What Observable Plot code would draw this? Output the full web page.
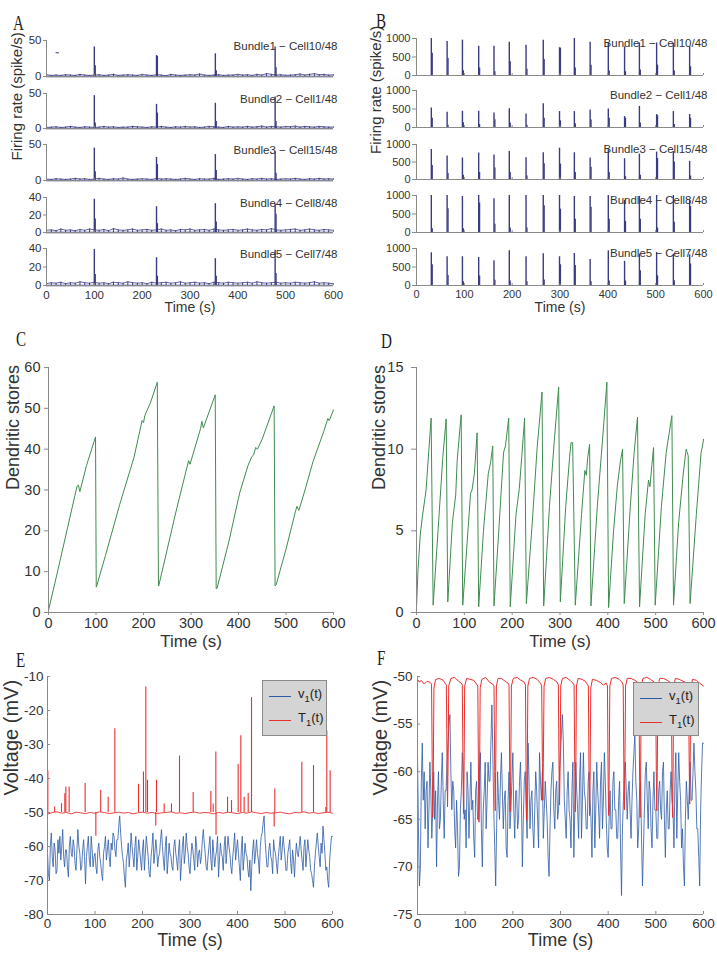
<!DOCTYPE html>
<html><head><meta charset="utf-8">
<script src="https://cdn.jsdelivr.net/npm/d3@7"></script>
<script src="https://cdn.jsdelivr.net/npm/@observablehq/plot@0.6"></script>
<style>
body{margin:0;background:#fff;}
#fig{position:relative;width:717px;height:957px;background:#fff;overflow:hidden;font-family:"Liberation Sans",Arial,sans-serif;}
#fig svg, #fig svg text{font-family:"Liberation Sans",Arial,sans-serif;}
.letter{position:absolute;font-family:"Liberation Serif","DejaVu Serif",serif;font-size:21px;color:#222;transform:scaleX(0.72);transform-origin:left top;line-height:1;}
.legend{position:absolute;background:#d4d4d4;border:1px solid #8a8a8a;box-sizing:border-box;color:#222;font-size:13px;}
.legend .ln{position:absolute;left:6px;width:22px;height:1px;}
.legend .lt{position:absolute;left:35px;line-height:14px;white-space:nowrap;}
.legend sub{font-size:9.5px;vertical-align:-4px;line-height:0;}
</style></head><body><div id="fig"></div><script>
// ---------------- data ----------------
const xTicks = [0,100,200,300,400,500,600];
const xDomain = [0,600];

// Panel A
const aLabels = ["Bundle1 − Cell10/48","Bundle2 − Cell1/48","Bundle3 − Cell15/48","Bundle4 − Cell8/48","Bundle5 − Cell7/48"];
const aSpikeT = [100, 230, 353, 478];
const aSecT = [102, 232, 355, 480];
const aPeak1 = [41, 29, 31.5, 41], aSec1 = [15, 28, 8, 12];
const aPeak2 = [47, 34.5, 36, 45], aSec2 = [8, 22, 10, 10];
const aPeak3 = [45, 32, 36, 40], aSec3 = [12, 22, 14, 10];
const aPeak4 = [38, 29.5, 33, 32], aSec4 = [15.5, 10, 12, 21];
const aPeak5 = [39, 30, 29, 38], aSec5 = [12, 10, 10, 13];
const aNoise1 = [2.5,1.5,2,1.5,2.5,2,1.5,3,2,1.5, 2,2.5,1.5,2,3,1.5,2,2.5,2,1.5, 3,2,1.5,2.5,2,1,3,2,1.5,2, 2.5,2,3.5,2,1.5,2,2.5,1.5,2,2, 3,2,2.5,1.5,3,2,4,3,2,2.5, 1.5,2,2.5,3.5,2,3,4,2.5,3,2, 2.5];
const aNoise2 = [1.5,2,2.5,1.5,2,3,2,1.5,2.5,2, 1.5,2,3,2,2.5,1.5,2,2,3,2.5, 2,1.5,2.5,2,3,2,1.5,2.5,2,3, 2,2.5,1.5,2,3,2.5,2,1.5,3,2, 2.5,2,3,2,2.5,3.5,2,3,2.5,2, 3,2.5,3.5,2,3,2.5,2,3,2.5,2, 2];
const aNoise3 = [2,1.5,2.5,2,1.5,2,3,2,2.5,1.5, 2,3,2,1.5,2.5,2,3.5,2,1.5,2, 2.5,2,1.5,3,2,2.5,2,1.5,2,3, 2,1.5,2.5,2,2,3,1.5,2,2.5,2, 3,2,1.5,2.5,2,3,2,2.5,1.5,2, 2.5,2,3,2,1.5,2.5,2,3,2,2.5, 2];
const aNoise4 = [2.5,3,2,4,2.5,3,2,3.5,2.5,4, 3,2.5,3.5,2,4.5,3,2.5,3,4,2.5, 3,3.5,2.5,3,4,2.5,3,2,3.5,3, 4,2.5,3,3.5,2.5,4,3,2.5,3,3.5, 2.5,3,4,3,2.5,3.5,3,4.5,3,2.5, 3,3.5,4,2.5,3,4,3,2.5,3.5,3, 2.5];
const aNoise5 = [2,3,2.5,3.5,2,3,2.5,4,3,2.5, 3.5,2.5,3,2,3.5,3,2.5,4,3,2.5, 3,2,3.5,2.5,3,3.5,2.5,3,4,2.5, 3,3.5,2.5,3,2,3.5,3,2.5,3.5,3, 2.5,3,3.5,2.5,4,3,2.5,3,3.5,2.5, 3,2.5,3.5,3,2.5,3,4,2.5,3,2.5, 2];
const aDash = {t1: 20, t2: 27, v: 33};

// Panel B
const bSpikeT = [31,64,96,130,162,194,229,265,299,330,363,401,435,466,502,537,571];
const bSecT   = [33,66,98,132,164,196,231,267,301,332,365,403,437,468,504,539,573];
const bMain1 = [1000,920,955,790,790,900,820,955,750,1000,900,880,775,880,880,865,775];
const bSec1  = [600,460,130,200,100,370,170,430,740,200,280,120,100,150,280,120,235];
const bMain2 = [527,410,437,437,390,510,366,643,430,430,473,500,295,571,350,430,350];
const bSec2  = [250,60,130,80,210,120,60,250,180,100,200,250,250,120,320,80,250];
const bMain3 = [857,670,613,755,698,800,623,764,894,764,613,850,594,726,783,800,519];
const bSec3  = [400,170,120,200,330,200,100,450,440,200,350,200,80,120,600,500,100];
const bMain4 = [1000,1000,973,1000,910,1000,1000,1000,1000,973,973,1000,865,973,1000,1000,865];
const bSec4  = [100,640,100,800,220,120,120,720,630,360,680,360,300,360,120,280,700];
const bMain5 = [884,777,777,759,670,937,777,857,777,866,705,937,652,848,893,848,830];
const bSec5  = [560,270,100,260,140,120,100,150,560,540,100,120,120,400,260,130,580];
const bBase = 0;

// Panel C
const cT = [0,10,20,40,60,63,66,80,99,100.5, 101,120,150,180,197,200,203,215,229,231.5, 232,250,270,295,298,320,323,326,351,353, 355,380,400,403,420,428,432,436,440,450,475,477, 479,500,520,523,527,540,557,580,588,591,600];
const cV = [0.5,5.5,10.5,20.7,30.9,31.2,29.6,36,43,6.2, 6.3,14,26.5,38,47,46.5,48.3,51.5,56.4,6.5, 6.5,15.5,25.5,37.2,36.3,45,46.8,45.2,53.3,5.8, 6,17.5,28,29.5,36,38.2,38.6,40.4,40,42.5,50.6,6.5, 6.7,15.5,24.8,26,25,30,37,44.5,47.5,47,49.6];

// Panel D
const dT = [0,3,8,12,20,26,30.6, 34.8,45,55,62, 65.4,75,82,85,93.3, 96.7,108,113,116,121,126.7, 130,140,150,155,159.4, 162,172,182,186,190,192.8, 196,208,215,220,226, 229.7,242,252,262.4, 265.9,278,288,297.2, 300.7,312,320,323,326.4, 332,345,352,355,358,361.9, 364.7,378,390,398, 401.6,412,420,426,430.8, 434.3,447,455,462, 466.3,478,485,488,492,495.6, 499,512,522,533.9, 537.3,548,558,563.8,566,568, 572,585,595,598,600];
const dV = [0.3,2.5,4.8,5.8,7.5,10,11.9, 0.45,5,9.5,11.85, 0.65,5.5,7.2,9.3,12.1, 0.45,5.2,7.3,7.5,8.5,11, 0.35,5,8.5,9.2,10.2, 0.4,5,9.8,10.2,11.2,11.9, 0.35,6,7.6,9.5,11.9, 0.55,5.5,10,13.5, 0.4,6.5,10.5,13.8, 0.65,6.5,9.5,10.4,10.4, 0.45,6,8.7,8.4,9.5,10.3, 0.4,6.5,11,14.1, 0.3,5,7.8,9.2,10, 0.55,6.5,9.8,11.95, 0.35,6,8.1,7.7,9,10.1, 0.45,6.5,9.8,12.05, 0.45,5.5,8.6,10,9.8,9.6, 0.55,6,9.8,10.2,10.6];

// Panel E (v1 sampled every 2 s)
const eBlue = [
 -62,-68,-70,-60,-56,-63,-66,-59,-61,-68,
 -67,-58,-62,-57,-64,-60,-55,-63,-66,-61,
 -61,-66,-69,-60,-57,-62,-63,-58,-60,-65,
 -67,-61,-55,-60,-62,-67,-66,-61,-58,-63,
 -71,-63,-60,-57,-64,-66,-57,-61,-66,-63,
 -62,-66,-68,-61,-59,-63,-65,-68,-70,-62,
 -60,-57,-64,-61,-58,-63,-66,-59,-61,-56,
 -57,-61,-63,-58,-58,-54,-51,-56,-60,-63,
 -65,-69,-72,-64,-62,-59,-66,-62,-56,-60,
 -63,-66,-60,-57,-67,-63,-58,-61,-64,-67,
 -61,-58,-67,-62,-57,-60,-63,-68,-69,-63,
 -60,-56,-65,-62,-58,-61,-66,-63,-62,-58,
 -55,-60,-64,-67,-60,-57,-68,-64,-59,-62,
 -63,-66,-67,-60,-58,-62,-64,-67,-61,-58,
 -70,-65,-60,-57,-65,-62,-56,-60,-62,-66,
 -68,-63,-59,-61,-64,-67,-57,-60,-66,-62,
 -61,-65,-63,-58,-55,-59,-62,-66,-67,-63,
 -60,-57,-64,-67,-58,-62,-66,-63,-61,-57,
 -69,-64,-59,-62,-63,-67,-60,-57,-65,-61,
 -57,-60,-62,-66,-68,-63,-60,-56,-64,-61,
 -58,-62,-66,-70,-61,-57,-67,-63,-59,-62,
 -63,-67,-69,-64,-73,-66,-61,-58,-65,-62,
 -58,-62,-64,-68,-60,-57,-56,-53,-51,-58,
 -62,-66,-66,-61,-59,-63,-64,-68,-58,-61,
 -62,-65,-68,-63,-60,-57,-64,-61,-57,-60,
 -63,-67,-67,-62,-60,-58,-65,-68,-61,-64,
 -69,-63,-59,-62,-63,-60,-57,-61,-64,-67,
 -60,-58,-66,-62,-58,-61,-63,-67,-68,-70,
 -72,-66,-62,-59,-56,-60,-63,-66,-59,-62,
 -54,-58,-62,-67,-66,-70,-72,-64,-60,-57,
 -57];
const eRest = -50;
const eRedBase = [-50.5,-50,-49.8,-50.2,-50,-50.4,-49.9,-50.1,-50.3,-50, -50.2,-49.8,-50,-50.3,-50.1,-49.9,-50.2,-50,-50.4,-50.1, -49.9,-50.2,-50,-50.3,-50.1,-50,-49.8,-50.2,-50.1,-50.3, -50,-49.9,-50.2,-50,-50.1,-50.4,-50,-50.2,-49.9,-50.1, -50.3,-50,-50.2,-49.8,-50.1,-50.3,-50,-50.2,-50.1,-49.9, -50.2,-50.4,-50,-50.1,-49.8,-50.2,-50,-50.3,-50.1,-49.9, -50.2];
const eSpikeT = [0.7,15,29.5,36.5,38.6,45.6,79.3,101.8,112,127.7,141.8,191.6,202,207,210.5,228,229.5,245.6,261,277.9,306.7,343.9,348.8,354.4,354.8,379,387.4,401.4,407,414,422.5,429.5,477.2,478.6,535.4,560,586,588,595];
const eSpikeV = [-37.8,-48.4,-47.4,-44.5,-42.5,-42.5,-41.5,-57,-43.5,-45.5,-25.4,-41.7,-38.1,-13.1,-40.5,-54,-40.5,-47.5,-47.5,-33.4,-44.1,-43.8,-47.5,-32.2,-56.7,-45.5,-46.5,-35.9,-27.4,-45.5,-44.4,-16.2,-54.3,-43.1,-35.2,-36.2,-48.5,-26,-37.7];

// Panel F (v1 sampled every 2 s)
const fBlue = [
 -58,-66,-72,-70,-61,-57,-63,-60,-66,-62,
 -61,-68,-64,-59,-62,-67,-64,-60,-65,-62,
 -70,-63,-60,-66,-65,-61,-58,-63,-67,-62,
 -62,-59,-57,-55,-54,-60,-64,-61,-62,-66,
 -68,-63,-66,-71,-70,-64,-62,-58,-60,-65,
 -64,-68,-60,-62,-67,-63,-59,-64,-63,-67,
 -69,-62,-61,-65,-65,-60,-58,-66,-70,-64,
 -62,-59,-66,-63,-59,-61,-61,-57,-53,-58,
 -64,-68,-72,-66,-60,-63,-65,-61,-58,-62,
 -66,-63,-62,-68,-69,-63,-60,-66,-64,-61,
 -58,-64,-67,-62,-62,-66,-65,-61,-59,-63,
 -70,-65,-61,-60,-64,-67,-57,-61,-66,-63,
 -62,-66,-68,-64,-60,-62,-65,-68,-58,-61,
 -63,-60,-67,-64,-61,-63,-65,-69,-71,-66,
 -62,-60,-59,-64,-66,-62,-61,-65,-64,-60,
 -58,-56,-54,-57,-63,-65,-67,-62,-60,-64,
 -65,-68,-62,-59,-69,-64,-59,-62,-64,-67,
 -61,-58,-67,-63,-58,-62,-63,-66,-66,-61,
 -60,-63,-65,-69,-62,-60,-68,-64,-59,-62,
 -64,-67,-61,-59,-66,-63,-58,-61,-65,-68,
 -69,-65,-62,-66,-66,-61,-60,-64,-64,-67,
 -67,-63,-61,-68,-73,-66,-63,-60,-59,-62,
 -65,-62,-61,-64,-67,-63,-60,-58,-56,-61,
 -63,-68,-66,-62,-61,-67,-72,-68,-64,-60,
 -59,-63,-66,-61,-62,-66,-68,-63,-60,-64,
 -64,-67,-67,-62,-61,-64,-65,-60,-59,-65,
 -69,-64,-62,-66,-66,-62,-60,-63,-64,-68,
 -61,-58,-67,-62,-58,-61,-63,-68,-66,-70,
 -72,-65,-61,-63,-65,-62,-59,-63,-63,-60,
 -57,-60,-62,-66,-66,-69,-72,-64,-60,-57,
 -57];
const fRedT = [0,4,8,14,20,26, 29.5,31,32,33,34.5, 38,46,54,58, 60.5,62,63,64,65.5, 70,78,86,92, 94,95.5,96.5,97.5,99, 103,110,118,124, 126.5,128,129,130,131.5, 135,143,151,158, 160.5,162,163,164,165.5, 169,176,184,190, 192,193.4,194.4,195.4,197, 201,209,217,224, 226.5,228,229,230,231.5, 235,243,251,258, 260.5,262,263,264,265.5, 269,277,285,293, 295.5,297,298,299,300.5, 304,312,320,326, 328.5,330,331,332,333.5, 337,345,352,356, 358.5,360,361,362,363.5, 367,375,383,390,396, 398.5,400,401,402,403.5, 407,415,423,429, 431.5,433,434,435,436.5, 440,448,456,462, 464.5,466,467,468,469.5, 473,481,489,497, 499.5,501,502,503,504.5, 508,516,524,530, 532.5,534,535,536,537.5, 541,549,557,566, 568.5,570,571,572,573.5, 577,585,592,600];
const fRedV = [-50.3,-50.6,-50.4,-50.8,-50.5,-50.6, -50.8,-60,-64.8,-61,-51.2, -50.3,-50.2,-50.4,-50.7, -50.9,-59,-63.7,-60,-51, -50.2,-50.1,-50.5,-50.7, -50.9,-60,-64.4,-61,-51, -50.2,-50.3,-50.4,-50.8, -51,-61,-65.3,-62,-51.2, -50.3,-50.1,-50.6,-50.8, -51,-60,-64.1,-60,-51, -50.2,-50.2,-50.5,-50.7, -50.9,-60,-64.2,-61,-51, -50.2,-50.1,-50.4,-50.6, -50.9,-61,-65.1,-62,-51, -50.2,-50.1,-50.3,-50.7, -51,-59,-63,-59,-51, -50.2,-50.1,-50.3,-50.6, -50.9,-60,-63.5,-60,-51, -50.2,-50.1,-50.4,-50.7, -50.9,-60,-64.2,-61,-51, -50.2,-50.3,-50.5,-50.8, -51,-61,-64.6,-61,-51.2, -50.3,-50.4,-50.6,-50.9,-50.7, -51,-61,-64.6,-61,-51, -50.2,-50.1,-50.3,-50.6, -50.9,-60,-64,-60,-51, -50.2,-50.2,-50.4,-50.6, -50.8,-61,-64.8,-61,-51, -50.2,-50.1,-50.3,-50.6, -50.9,-60,-64.1,-60,-51, -50.2,-50.2,-50.4,-50.6, -50.9,-61,-64.8,-61,-51, -50.2,-50.3,-50.5,-50.7, -50.9,-59,-63.4,-59,-51, -50.3,-50.4,-50.7,-51];

const legendNames = [["v","1","(t)"],["T","1","(t)"]];

// ---------------- styling ----------------
const FONT = "Liberation Sans, Arial, sans-serif";
const AX = "#8a8a8a", TX = "#333";
const NAVY = "#3b3b82", GREEN = "#3f8c50", BLUE = "#2c5ba6", RED = "#e8302e";
const fig = document.getElementById("fig");

const grid = vals => vals.map((v,i) => ({t: i*600/(vals.length-1), v}));
const zip = (T, V) => T.slice(0, Math.min(T.length, V.length)).map((t,i) => ({t, v: V[i]}));

function panel(frame, o) {
  const [x0,x1,y0,y1] = frame;
  const fw = x1-x0, fh = y1-y0, m = 4;
  const marks = [
    ...o.marks,
    Plot.ruleX([o.xDomain[0]], {stroke: AX}),
    Plot.ruleY([o.yDomain[0]], {stroke: AX}),
    Plot.axisY(o.yTicks, {tickSize: Math.max(o.ySize,0), tickPadding: o.yPad, tickFormat: d => String(d), stroke: AX, fill: TX, label: null, fontSize: o.fs, fontFamily: FONT}),
    Plot.axisX(o.xTicks, {tickSize: Math.max(o.xSize,0), tickPadding: o.xPad, tickFormat: o.xLab ? (d => String(d)) : (() => ""), stroke: AX, fill: TX, label: null, fontSize: o.fs, fontFamily: FONT})
  ];
  if (o.ySize < 0) marks.push(Plot.tickY(o.yTicks, {y: d => d, stroke: AX, insetRight: fw + o.ySize}));
  if (o.xSize < 0) marks.push(Plot.tickX(o.xTicks, {x: d => d, stroke: AX, insetTop: fh + o.xSize}));
  if (o.extra) marks.push(...o.extra);
  const svg = Plot.plot({
    width: fw + 2*m, height: fh + 2*m,
    marginLeft: m, marginRight: m, marginTop: m, marginBottom: m,
    style: {background: "transparent", overflow: "visible", fontFamily: FONT, fontSize: o.fs + "px", color: TX},
    x: {domain: o.xDomain},
    y: {domain: o.yDomain},
    marks
  });
  svg.style.position = "absolute";
  svg.style.left = (x0 - m) + "px";
  svg.style.top = (y0 - m) + "px";
  svg.style.maxWidth = "none";
  fig.append(svg);
}
const label = (txt, opts) => Plot.text([txt], {fill: TX, fontFamily: FONT, ...opts});

function letter(ch, x, y) {
  const d = document.createElement("div");
  d.className = "letter"; d.textContent = ch;
  d.style.left = x + "px"; d.style.top = y + "px";
  fig.append(d);
}

function legend(x, y, w, h, colors) {
  const d = document.createElement("div");
  d.className = "legend";
  Object.assign(d.style, {left: x+"px", top: y+"px", width: w+"px", height: h+"px"});
  legendNames.forEach((n, i) => {
    const ln = document.createElement("div");
    ln.className = "ln"; ln.style.background = colors[i]; ln.style.top = (15 + i*24) + "px";
    const lt = document.createElement("div");
    lt.className = "lt"; lt.style.top = (6 + i*24) + "px";
    lt.innerHTML = `${n[0]}<sub>${n[1]}</sub>${n[2]}`;
    d.append(ln, lt);
  });
  fig.append(d);
}

// ---------------- Panel A ----------------
const aPeaks = [aPeak1,aPeak2,aPeak3,aPeak4,aPeak5];
const aSecs = [aSec1,aSec2,aSec3,aSec4,aSec5];
const aNoises = [aNoise1,aNoise2,aNoise3,aNoise4,aNoise5];
const aFrames = [[46,333,40,76],[46,333,93,128],[46,333,144,180],[46,333,197,232],[46,333,248,285]];
const aDomains = [[0,50],[0,50],[0,50],[0,40],[0,40]];
const aTicks = [[0,50],[0,50],[0,50],[0,20,40],[0,20,40]];
aFrames.forEach((fr, i) => {
  const noise = grid(aNoises[i]);
  const extra = [];
  if (i === 2) extra.push(label("Firing rate (spike/s)", {frameAnchor: "left", rotate: -90, dx: -29, dy: -2, fontSize: 15}));
  if (i === 4) extra.push(label("Time (s)", {frameAnchor: "bottom", dy: 26.5, fontSize: 14}));
  const marks = [
    Plot.ruleX(noise, {x: "t", y1: 0, y2: "v", stroke: NAVY, strokeWidth: 1}),
    Plot.lineY(noise, {x: "t", y: "v", stroke: NAVY, strokeWidth: 1, strokeOpacity: 0.8}),
    Plot.ruleY([0], {stroke: NAVY, strokeWidth: 1.5}),
    Plot.ruleX(zip(aSecT, aSecs[i]), {x: "t", y1: 0, y2: "v", stroke: NAVY, strokeWidth: 1.2}),
    Plot.ruleX(zip(aSpikeT, aPeaks[i]), {x: "t", y1: 0, y2: "v", stroke: NAVY, strokeWidth: 1.4}),
    label(aLabels[i], {frameAnchor: "top-right", textAnchor: "end", lineAnchor: "top", dx: 4, dy: 1, fontSize: 11.5})
  ];
  if (i === 0) marks.push(Plot.ruleY([aDash], {x1: "t1", x2: "t2", y: "v", stroke: NAVY}));
  panel(fr, {xDomain, yDomain: aDomains[i], xTicks, yTicks: aTicks[i], ySize: 3, yPad: 2, xSize: -2, xPad: 5, xLab: i === 4, fs: 11.5, marks, extra});
});

// ---------------- Panel B ----------------
const bMains = [bMain1,bMain2,bMain3,bMain4,bMain5];
const bSecs = [bSec1,bSec2,bSec3,bSec4,bSec5];
const bFrames = [[416,703,38,75],[416,703,90,127],[416,703,144,179],[416,703,195,232],[416,703,248,285]];
bFrames.forEach((fr, i) => {
  const extra = [];
  if (i === 2) extra.push(label("Firing rate (spike/s)", {frameAnchor: "left", rotate: -90, dx: -40, dy: -8, fontSize: 15}));
  if (i === 4) extra.push(label("Time (s)", {frameAnchor: "bottom", dy: 26.5, fontSize: 14}));
  const marks = [
    Plot.ruleY([bBase], {stroke: NAVY, strokeDasharray: "5,2,1,2", strokeWidth: 1.2}),
    Plot.ruleX(zip(bSecT, bSecs[i]), {x: "t", y1: 0, y2: "v", stroke: NAVY, strokeWidth: 1.2}),
    Plot.ruleX(zip(bSpikeT, bMains[i]), {x: "t", y1: 0, y2: "v", stroke: NAVY, strokeWidth: 1.4}),
    label(aLabels[i], {frameAnchor: "top-right", textAnchor: "end", lineAnchor: "top", dx: 4, dy: 0, fontSize: 11.5})
  ];
  panel(fr, {xDomain, yDomain: [0,1000], xTicks, yTicks: [0,500,1000], ySize: 4, yPad: 2, xSize: -2, xPad: 5, xLab: i === 4, fs: 11, marks, extra});
});

// ---------------- Panel C ----------------
panel([48,333,367,612], {
  xDomain, yDomain: [0,60], xTicks, yTicks: [0,10,20,30,40,50,60],
  ySize: 4, yPad: 4, xSize: 3, xPad: 2, xLab: true, fs: 14.5,
  marks: [Plot.line(zip(cT, cV), {x: "t", y: "v", stroke: GREEN, strokeWidth: 1})],
  extra: [
    label("Dendritic stores", {frameAnchor: "left", rotate: -90, dx: -35, fontSize: 18}),
    label("Time (s)", {frameAnchor: "bottom", dy: 34, fontSize: 17})
  ]
});

// ---------------- Panel D ----------------
panel([416,703,367,612], {
  xDomain, yDomain: [0,15], xTicks, yTicks: [0,5,10,15],
  ySize: 5, yPad: 8, xSize: 3, xPad: 2, xLab: true, fs: 14.5,
  marks: [Plot.line(zip(dT, dV), {x: "t", y: "v", stroke: GREEN, strokeWidth: 1})],
  extra: [
    label("Dendritic stores", {frameAnchor: "left", rotate: -90, dx: -37, fontSize: 18}),
    label("Time (s)", {frameAnchor: "bottom", dy: 34, fontSize: 17})
  ]
});

// ---------------- Panel E ----------------
panel([47,332,676,914], {
  xDomain, yDomain: [-80,-10], xTicks, yTicks: [-80,-70,-60,-50,-40,-30,-20,-10],
  ySize: -3, yPad: 4, xSize: -3, xPad: 4, xLab: true, fs: 13.5,
  marks: [
    Plot.lineY(grid(eBlue), {x: "t", y: "v", stroke: BLUE, strokeWidth: 0.8}),
    Plot.lineY(grid(eRedBase), {x: "t", y: "v", stroke: RED, strokeWidth: 0.9}),
    Plot.ruleX(zip(eSpikeT, eSpikeV), {x: "t", y1: eRest, y2: "v", stroke: RED, strokeWidth: 1.1})
  ],
  extra: [
    label("Voltage (mV)", {frameAnchor: "left", rotate: -90, dx: -36, fontSize: 20}),
    label("Time (s)", {frameAnchor: "bottom", dy: 31, fontSize: 18})
  ]
});

// ---------------- Panel F ----------------
panel([417,703,676,914], {
  xDomain, yDomain: [-75,-50], xTicks, yTicks: [-75,-70,-65,-60,-55,-50],
  ySize: -3, yPad: 5, xSize: -3, xPad: 4, xLab: true, fs: 13.5,
  marks: [
    Plot.lineY(grid(fBlue), {x: "t", y: "v", stroke: BLUE, strokeWidth: 0.8}),
    Plot.line(zip(fRedT, fRedV), {x: "t", y: "v", stroke: RED, strokeWidth: 1})
  ],
  extra: [
    label("Voltage (mV)", {frameAnchor: "left", rotate: -90, dx: -36.5, fontSize: 20}),
    label("Time (s)", {frameAnchor: "bottom", dy: 31, fontSize: 18})
  ]
});

legend(262, 680, 65, 56, [BLUE, RED]);
legend(633, 682, 66, 54, [BLUE, RED]);

letter("A", 13, 13);
letter("B", 376, 11);
letter("C", 16, 329);
letter("D", 381, 331);
letter("E", 16, 650);
letter("F", 377, 648);
</script></body></html>
